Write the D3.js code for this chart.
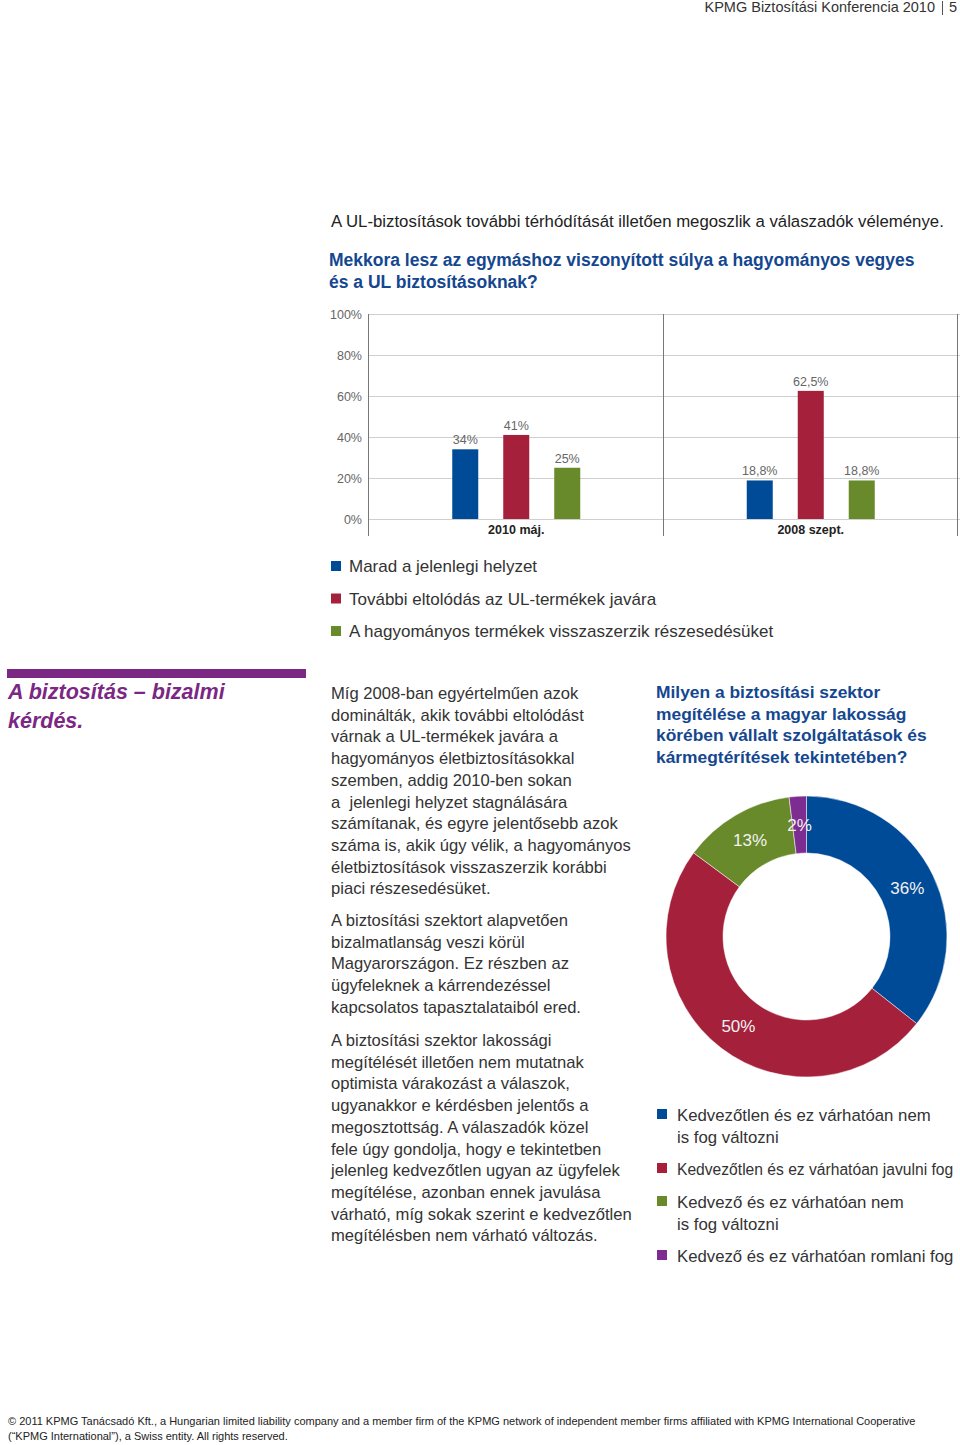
<!DOCTYPE html>
<html>
<head>
<meta charset="utf-8">
<script src="https://cdn.jsdelivr.net/npm/d3@7"></script>
<style>
  html, body { margin: 0; padding: 0; background: #fff; }
  svg { display: block; }
  text { font-family: "Liberation Sans", Arial, sans-serif; }
</style>
</head>
<body>
<svg id="page" width="960" height="1445"></svg>
<script>
// ---------- DATA ----------
const barCategories = ["2010 máj.", "2008 szept."];
const barSeries = ["Marad a jelenlegi helyzet", "További eltolódás az UL-termékek javára", "A hagyományos termékek visszaszerzik részesedésüket"];
const barValues2010 = [34, 41, 25];
const barValues2008 = [18.8, 62.5, 18.8];
const yTicks = [0, 20, 40, 60, 80, 100];

const donutCategories = ["Kedvezőtlen és ez várhatóan nem is fog változni", "Kedvezőtlen és ez várhatóan javulni fog", "Kedvező és ez várhatóan nem is fog változni", "Kedvező és ez várhatóan romlani fog"];
const donutLegendLines = [["Kedvezőtlen és ez várhatóan nem", "is fog változni"], ["Kedvezőtlen és ez várhatóan javulni fog"], ["Kedvező és ez várhatóan nem", "is fog változni"], ["Kedvező és ez várhatóan romlani fog"]];
const donutValues = [36, 50, 13, 2];

const headerText = "KPMG Biztosítási Konferencia 2010";
const pageNumber = "5";
const introText = "A UL-biztosítások további térhódítását illetően megoszlik a válaszadók véleménye.";
const barQuestion = ["Mekkora lesz az egymáshoz viszonyított súlya a hagyományos vegyes", "és a UL biztosításoknak?"];
const sideHeading = ["A biztosítás – bizalmi", "kérdés."];
const paragraphs = [
  ["Míg 2008-ban egyértelműen azok", "dominálták, akik további eltolódást", "várnak a UL-termékek javára a", "hagyományos életbiztosításokkal", "szemben, addig 2010-ben sokan", "a  jelenlegi helyzet stagnálására", "számítanak, és egyre jelentősebb azok", "száma is, akik úgy vélik, a hagyományos", "életbiztosítások visszaszerzik korábbi", "piaci részesedésüket."],
  ["A biztosítási szektort alapvetően", "bizalmatlanság veszi körül", "Magyarországon. Ez részben az", "ügyfeleknek a kárrendezéssel", "kapcsolatos tapasztalataiból ered."],
  ["A biztosítási szektor lakossági", "megítélését illetően nem mutatnak", "optimista várakozást a válaszok,", "ugyanakkor e kérdésben jelentős a", "megosztottság. A válaszadók közel", "fele úgy gondolja, hogy e tekintetben", "jelenleg kedvezőtlen ugyan az ügyfelek", "megítélése, azonban ennek javulása", "várható, míg sokak szerint e kedvezőtlen", "megítélésben nem várható változás."]
];
const donutQuestion = ["Milyen a biztosítási szektor", "megítélése a magyar lakosság", "körében vállalt szolgáltatások és", "kármegtérítések tekintetében?"];
const footerLines = ["© 2011 KPMG Tanácsadó Kft., a Hungarian limited liability company and a member firm of the KPMG network of independent member firms affiliated with KPMG International Cooperative", "(“KPMG International”), a Swiss entity. All rights reserved."];

// ---------- STYLE ----------
const BLUE = "#004b98", RED = "#a4203b", GREEN = "#688a2b", PURPLE = "#7d2c90";
const seriesColors = [BLUE, RED, GREEN];
const donutColors = [BLUE, RED, GREEN, PURPLE];
const TEXT = "#333", HEAD_BLUE = "#14478f", SIDE_PURPLE = "#7b2784";

const svg = d3.select("#page");
svg.append("rect").attr("width", 960).attr("height", 1445).attr("fill", "#fff");

// helper: shrink a text's font size if it exceeds a maximum width
function fit(sel, maxW) {
  sel.each(function () {
    const w = this.getComputedTextLength();
    if (w > maxW) {
      const fs = parseFloat(d3.select(this).attr("font-size"));
      d3.select(this).attr("font-size", (fs * maxW / w).toFixed(2));
    }
  });
}

// ---------- header ----------
svg.append("text").attr("x", 935).attr("y", 12).attr("text-anchor", "end")
  .attr("font-size", 14.5).attr("fill", TEXT).text(headerText);
svg.append("line").attr("x1", 942.5).attr("x2", 942.5).attr("y1", 1).attr("y2", 15).attr("stroke", "#555").attr("stroke-width", 1);
svg.append("text").attr("x", 949).attr("y", 12).attr("font-size", 14.5).attr("fill", TEXT).text(pageNumber);

// ---------- intro + question ----------
svg.append("text").attr("x", 331).attr("y", 227).attr("font-size", 16.8).attr("fill", "#222").text(introText);
barQuestion.forEach((l, i) => {
  svg.append("text").attr("x", 329).attr("y", 266 + i * 22).attr("font-size", 17.5)
    .attr("font-weight", "bold").attr("fill", HEAD_BLUE).text(l);
});

// ---------- bar chart ----------
const data = barCategories.map((c, i) => ({ cat: c, vals: [barValues2010, barValues2008][i] }));
const y = d3.scaleLinear().domain([0, 100]).range([519, 314]);
const x0 = d3.scaleBand().domain(barCategories).range([369, 958]);
const x1 = d3.scaleBand().domain(barSeries).range([-64, 64]).paddingInner(0.49);
const locale = d3.formatLocale({ decimal: ",", thousands: " ", grouping: [3], currency: ["", ""] });
const fmt = v => (Number.isInteger(v) ? locale.format("d")(v) : locale.format(".1f")(v)) + "%";

const bar = svg.append("g");
bar.selectAll("line.grid").data(yTicks).join("line")
  .attr("x1", 369).attr("x2", 960).attr("y1", d => y(d) + 0.5).attr("y2", d => y(d) + 0.5)
  .attr("stroke", "#cfcfcf").attr("stroke-width", 1);
const yAxis = d3.axisLeft(y).tickValues(yTicks).tickSize(0).tickPadding(7).tickFormat(d => d + "%");
const ya = bar.append("g").attr("transform", "translate(369,0)").call(yAxis);
ya.select(".domain").remove();
ya.selectAll("text").attr("font-size", 12.5).attr("fill", "#666").attr("font-family", "Liberation Sans, Arial, sans-serif");
const seps = [369, ...barCategories.map(c => x0(c) + x0.bandwidth())];
bar.selectAll("line.sep").data(seps).join("line")
  .attr("x1", d => Math.round(d) - 0.5).attr("x2", d => Math.round(d) - 0.5)
  .attr("y1", y(100)).attr("y2", 536).attr("stroke", "#777").attr("stroke-width", 1);
const groups = bar.selectAll("g.grp").data(data).join("g")
  .attr("transform", d => `translate(${x0(d.cat) + x0.bandwidth() / 2},0)`);
groups.selectAll("rect").data(d => d.vals.map((v, i) => ({ v, s: barSeries[i], i }))).join("rect")
  .attr("x", d => x1(d.s)).attr("width", x1.bandwidth())
  .attr("y", d => y(d.v)).attr("height", d => y(0) - y(d.v))
  .attr("fill", d => seriesColors[d.i]);
groups.selectAll("text.val").data(d => d.vals.map((v, i) => ({ v, s: barSeries[i], i }))).join("text")
  .attr("x", d => x1(d.s) + x1.bandwidth() / 2).attr("y", d => y(d.v) - 5)
  .attr("text-anchor", "middle").attr("font-size", 12.5).attr("fill", "#666").text(d => fmt(d.v));
const xAxis = d3.axisBottom(x0).tickSize(0).tickPadding(6);
const xa = bar.append("g").attr("transform", "translate(0,519)").call(xAxis);
xa.select(".domain").remove();
xa.selectAll("text").attr("font-size", 12.5).attr("font-weight", "bold").attr("fill", "#222")
  .attr("font-family", "Liberation Sans, Arial, sans-serif");

// bar legend
const bl = svg.append("g");
barSeries.forEach((s, i) => {
  const cy = 566 + i * 32.5;
  bl.append("rect").attr("x", 331).attr("y", cy - 5).attr("width", 10).attr("height", 10).attr("fill", seriesColors[i]);
  bl.append("text").attr("x", 349).attr("y", cy + 6).attr("font-size", 17).attr("fill", TEXT).text(s);
});

// ---------- side heading ----------
svg.append("rect").attr("x", 7).attr("y", 669).attr("width", 299).attr("height", 9).attr("fill", SIDE_PURPLE);
sideHeading.forEach((l, i) => {
  svg.append("text").attr("x", 8).attr("y", 699 + i * 29).attr("font-size", 21.5)
    .attr("font-weight", "bold").attr("font-style", "italic").attr("fill", SIDE_PURPLE).text(l);
});

// ---------- body paragraphs ----------
const paraStarts = [699, 926, 1046];
paragraphs.forEach((p, pi) => {
  p.forEach((l, i) => {
    svg.append("text").attr("x", 331).attr("y", paraStarts[pi] + i * 21.7).attr("font-size", 16.6)
      .attr("fill", TEXT).style("white-space", "pre").text(l);
  });
});

// ---------- donut question ----------
donutQuestion.forEach((l, i) => {
  svg.append("text").attr("x", 656).attr("y", 698 + i * 21.7).attr("font-size", 17.4)
    .attr("font-weight", "bold").attr("fill", HEAD_BLUE).text(l);
});

// ---------- donut ----------
const pie = d3.pie().sort(null).value(d => d);
const arcs = pie(donutValues);
const arc = d3.arc().innerRadius(83.5).outerRadius(140.5);
const labelArc = d3.arc().innerRadius(112).outerRadius(112);
const dg = svg.append("g").attr("transform", "translate(806.5,936.5)");
dg.selectAll("path").data(arcs).join("path").attr("d", arc)
  .attr("fill", (d, i) => donutColors[i]).attr("stroke", "#fff").attr("stroke-width", 0.5);
dg.selectAll("text").data(arcs).join("text")
  .attr("transform", d => `translate(${labelArc.centroid(d)})`)
  .attr("text-anchor", "middle").attr("dy", "0.38em").attr("font-size", 17)
  .attr("fill", "#f2f2f2").text(d => d.data + "%");

// donut legend
const dl = svg.append("g");
const legendRowsY = [1115, 1169, 1202, 1256];
donutLegendLines.forEach((lines, i) => {
  dl.append("rect").attr("x", 657).attr("y", legendRowsY[i] - 6).attr("width", 10).attr("height", 10).attr("fill", donutColors[i]);
  lines.forEach((l, j) => {
    dl.append("text").attr("x", 677).attr("y", legendRowsY[i] + 6 + j * 21.7).attr("font-size", 16.8)
      .attr("fill", TEXT).text(l).call(fit, 276);
  });
});

// ---------- footer ----------
footerLines.forEach((l, i) => {
  svg.append("text").attr("x", 8).attr("y", 1425 + i * 15).attr("font-size", 11)
    .attr("fill", "#222").text(l).call(fit, 915);
});
</script>
</body>
</html>
